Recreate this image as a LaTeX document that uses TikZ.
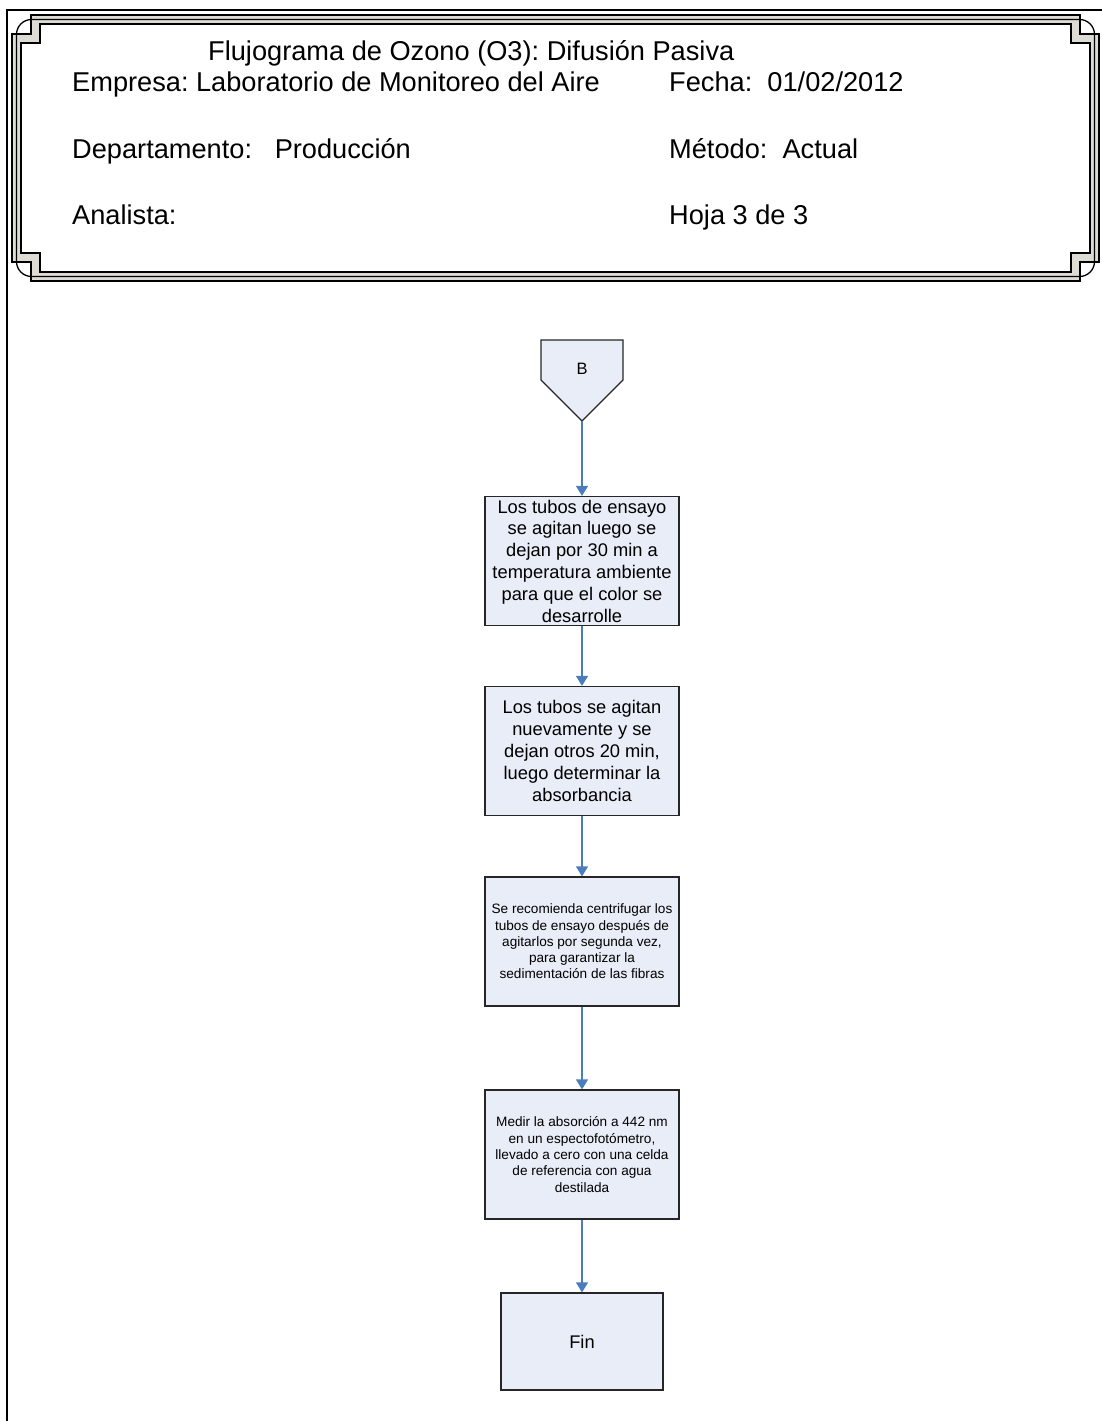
\documentclass[tikz,border=0pt]{standalone}
\usepackage{fontspec}
\setmainfont{Liberation Sans}
\usetikzlibrary{arrows.meta}
\frenchspacing
\definecolor{boxfill}{RGB}{232,237,247}
\definecolor{flowblue}{RGB}{74,126,187}
\definecolor{framegray}{RGB}{220,220,212}
\newcommand\myhdr{\fontsize{27.2}{32}\selectfont}
\newcommand\mybig{\fontsize{18.3}{21.8}\selectfont}
\newcommand\mysmall{\fontsize{13.6}{16.3}\selectfont}
% notched frame path with offset #1
\newcommand\framepath[1]{({31+#1},{15+#1}) -- ({1080-#1},{15+#1}) -- ({1080-#1},{34+#1}) -- ({1099-#1},{34+#1}) -- ({1099-#1},{262-#1}) -- ({1080-#1},{262-#1}) -- ({1080-#1},{281-#1}) -- ({31+#1},{281-#1}) -- ({31+#1},{262-#1}) -- ({12+#1},{262-#1}) -- ({12+#1},{34+#1}) -- ({31+#1},{34+#1}) -- cycle}
\begin{document}
\begin{tikzpicture}[x=1pt,y=-1pt,
  hdr/.style={font=\myhdr, inner sep=0pt, anchor=base west},
  proc/.style={draw=black!85, line width=1.2pt, fill=boxfill, minimum width=194pt, minimum height=129pt, align=center, inner sep=0pt},
  flow/.style={draw=flowblue, line width=1.2pt, -{Triangle[width=12pt,length=10pt]}},
  frameline/.style={draw=black, line width=1.3pt}]
\useasboundingbox (0,0) rectangle (1102,1421);
% page border
\draw[line width=2pt] (7,1421) -- (7,10) -- (1102,10);
% header frame
\fill[framegray, even odd rule] \framepath{0} \framepath{9};
\draw[frameline] \framepath{0};
\draw[frameline] \framepath{9};
\draw[frameline, rounded corners=15pt] (16.5,19.5) rectangle (1094.5,276.5);
% header texts
\node[hdr] (title) at (208,60) {Flujograma de Ozono (O3): Difusión Pasiva};
\node[hdr] (empresa) at (72,92) {Empresa: Laboratorio de Monitoreo del Aire};
\node[hdr] (fecha) at (669,92) {Fecha:\ \ 01/02/2012};
\node[hdr] (depto) at (72,158) {Departamento:\ \ \ Producción};
\node[hdr] (metodo) at (669,158) {Método:\ \ Actual};
\node[hdr] (analista) at (72,224) {Analista:};
\node[hdr] (hoja) at (669,224) {Hoja 3 de 3};
% off-page connector B
\draw[draw=black!85, line width=1.2pt, fill=boxfill] (541,340) -- (623,340) -- (623,380) -- (582,421) -- (541,380) -- cycle;
\node[font=\fontsize{16.5}{20}\selectfont] (B) at (582,369) {B};
\coordinate (Btip) at (582,421);
% process boxes
\node[proc, font=\mybig] (p1) at (582,561) {Los tubos de ensayo\\se agitan luego se\\dejan por 30 min a\\temperatura ambiente\\para que el color se\\desarrolle};
\node[proc, font=\mybig] (p2) at (582,751) {Los tubos se agitan\\nuevamente y se\\dejan otros 20 min,\\luego determinar la\\absorbancia};
\node[proc, font=\mysmall] (p3) at (582,941.5) {Se recomienda centrifugar los\\tubos de ensayo después de\\agitarlos por segunda vez,\\para garantizar la\\sedimentación de las fibras};
\node[proc, font=\mysmall] (p4) at (582,1154.5) {Medir la absorción a 442 nm\\en un espectofotómetro,\\llevado a cero con una celda\\de referencia con agua\\destilada};
\node[proc, font=\mybig, minimum width=162pt, minimum height=97pt] (fin) at (582,1341.5) {Fin};
% connectors
\draw[flow] (Btip) -- (p1.north);
\draw[flow] (p1.south) -- (p2.north);
\draw[flow] (p2.south) -- (p3.north);
\draw[flow] (p3.south) -- (p4.north);
\draw[flow] (p4.south) -- (fin.north);
\end{tikzpicture}
\end{document}
